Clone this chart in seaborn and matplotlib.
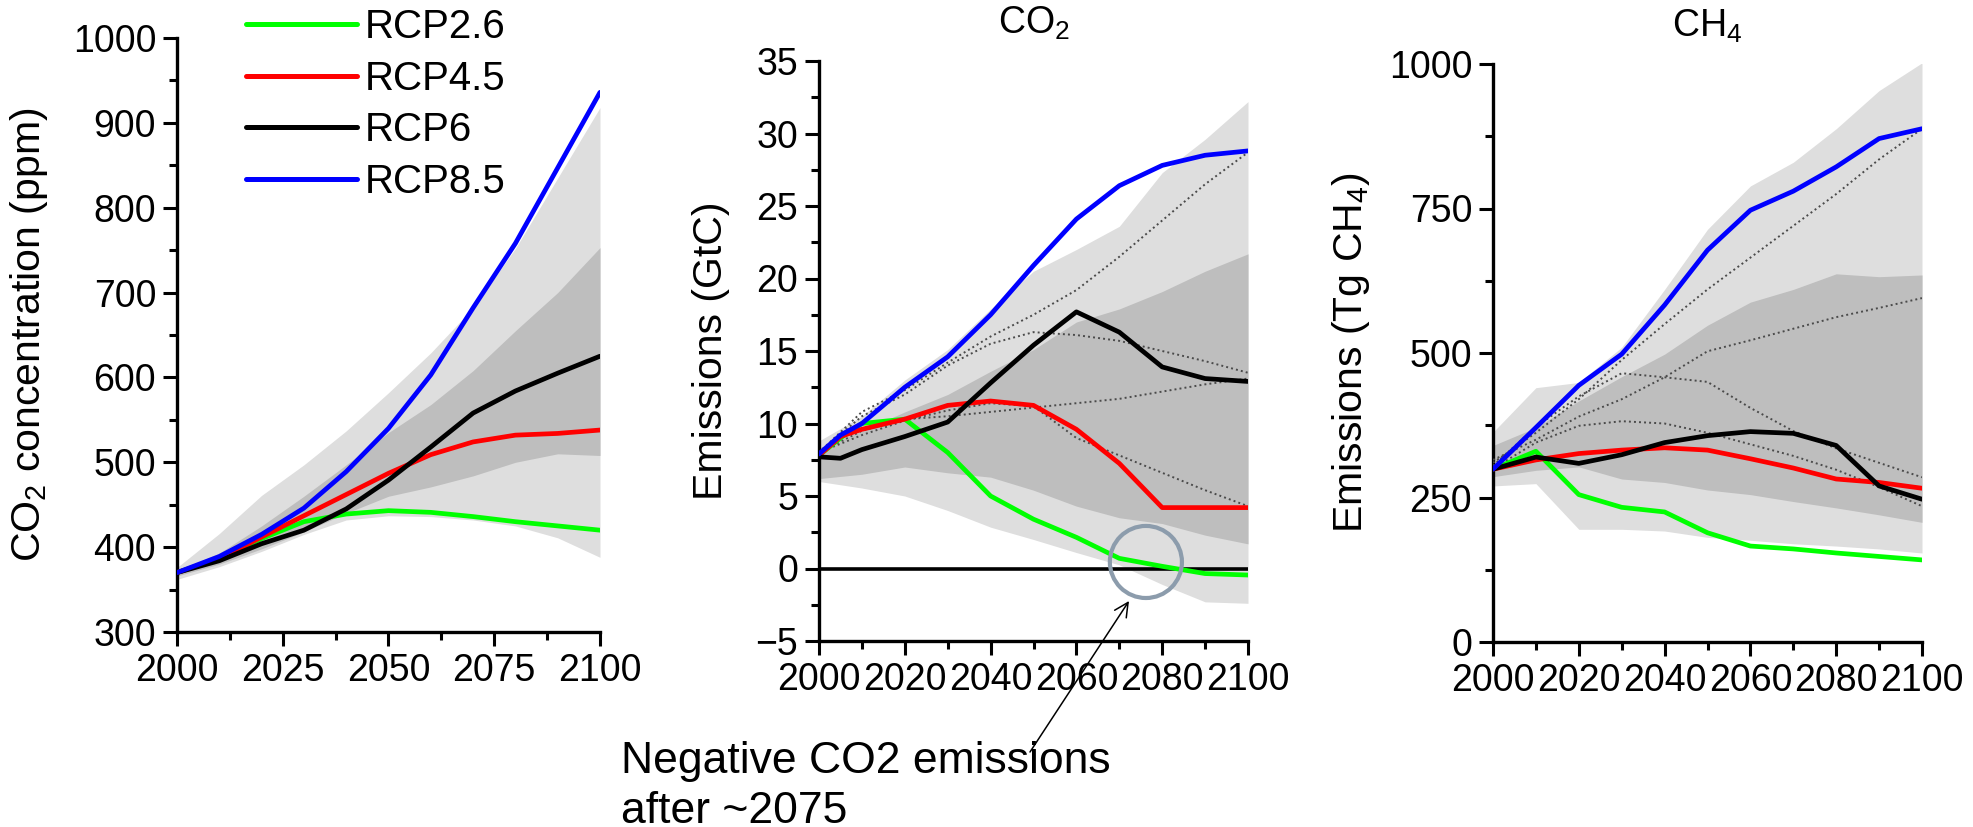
import numpy as np
import pandas as pd
import matplotlib
matplotlib.use("Agg")
import matplotlib.pyplot as plt
import seaborn as sns
from matplotlib.ticker import MultipleLocator
from matplotlib.lines import Line2D
from matplotlib.patches import Ellipse

# ---------------- data ----------------
scenarios = ["RCP2.6", "RCP4.5", "RCP6", "RCP8.5"]
colors = ["#00FF00", "#FF0000", "#000000", "#0000FF"]

years10 = [2000, 2010, 2020, 2030, 2040, 2050, 2060, 2070, 2080, 2090, 2100]
years_em = [2000, 2005, 2010, 2020, 2030, 2040, 2050, 2060, 2070, 2080, 2090, 2100]

# Panel 1: CO2 concentration (ppm)
conc_rcp26 = [370, 387, 410, 430, 439, 443, 441, 436, 430, 425, 420]
conc_rcp45 = [370, 386, 412, 437, 462, 487, 509, 524, 532, 534, 538]
conc_rcp6 = [370, 384, 404, 420, 445, 479, 518, 558, 584, 605, 625]
conc_rcp85 = [370, 389, 415, 446, 489, 540, 603, 682, 758, 847, 936]
conc_light_hi = [376, 416, 461, 497, 537, 582, 629, 682, 752, 835, 918]
conc_light_lo = [362, 377, 395, 415, 432, 437, 436, 432, 425, 411, 388]
conc_dark_hi = [372, 393, 425, 460, 497, 535, 568, 608, 655, 700, 753]
conc_dark_lo = [366, 380, 398, 418, 440, 460, 471, 484, 500, 510, 508]

# Panel 2: CO2 emissions (GtC)
co2_rcp26 = [7.8, 9.0, 10.0, 10.3, 8.0, 5.0, 3.4, 2.15, 0.7, 0.15, -0.35, -0.45]
co2_rcp45 = [7.8, 9.1, 9.6, 10.3, 11.25, 11.55, 11.25, 9.6, 7.25, 4.2, 4.2, 4.2]
co2_rcp6 = [7.7, 7.6, 8.2, 9.1, 10.1, 12.8, 15.4, 17.7, 16.3, 13.9, 13.1, 12.9]
co2_rcp85 = [7.9, 9.2, 10.0, 12.5, 14.6, 17.5, 20.9, 24.1, 26.4, 27.8, 28.5, 28.8]
co2_light_hi = [8.8, 10.5, 13.0, 15.1, 17.9, 20.5, 22.0, 23.6, 27.3, 29.6, 32.2]
co2_light_lo = [6.0, 5.55, 5.0, 4.0, 2.85, 2.0, 1.1, 0.25, -1.1, -2.3, -2.4]
co2_dark_hi = [8.3, 9.5, 10.8, 12.0, 13.6, 15.1, 17.0, 17.9, 19.1, 20.5, 21.7]
co2_dark_lo = [6.2, 6.5, 7.0, 6.6, 6.3, 5.4, 4.3, 3.5, 3.1, 2.3, 1.7]
co2_dot_a = [8.0, 10.8, 12.3, 14.2, 16.0, 17.5, 19.2, 21.5, 24.0, 26.5, 28.7]
co2_dot_b = [8.0, 10.5, 12.0, 14.0, 15.5, 16.3, 16.1, 15.7, 15.0, 14.3, 13.5]
co2_dot_c = [8.0, 9.5, 10.3, 10.5, 10.8, 11.1, 11.4, 11.7, 12.2, 12.7, 13.1]
co2_dot_d = [8.0, 9.2, 10.2, 10.9, 11.4, 11.2, 9.0, 7.8, 6.6, 5.4, 4.3]

# Panel 3: CH4 emissions (Tg CH4)
ch4_rcp26 = [299, 330, 255, 233, 225, 189, 166, 161, 154, 148, 142]
ch4_rcp45 = [299, 315, 326, 332, 336, 332, 317, 301, 282, 276, 266]
ch4_rcp6 = [299, 320, 309, 324, 345, 357, 364, 361, 340, 270, 247]
ch4_rcp85 = [299, 371, 444, 498, 583, 678, 747, 780, 822, 871, 888]
ch4_light_hi = [363, 440, 449, 510, 610, 714, 789, 830, 888, 954, 1002]
ch4_light_lo = [270, 274, 195, 195, 192, 181, 176, 170, 166, 161, 154]
ch4_dark_hi = [340, 371, 417, 459, 498, 548, 588, 610, 637, 632, 635]
ch4_dark_lo = [286, 297, 303, 282, 276, 263, 255, 243, 232, 220, 207]
ch4_dot_a = [310, 362, 420, 488, 550, 610, 665, 720, 775, 835, 888]
ch4_dot_b = [315, 350, 390, 420, 458, 503, 522, 542, 562, 578, 595]
ch4_dot_c = [305, 372, 425, 465, 458, 450, 405, 365, 335, 310, 285]
ch4_dot_d = [300, 345, 374, 382, 378, 362, 342, 322, 298, 268, 235]

x_ticks_conc = [2000, 2025, 2050, 2075, 2100]
x_ticks_em = [2000, 2020, 2040, 2060, 2080, 2100]

# ---------------- style ----------------
sns.set_theme(style="ticks")
plt.rcParams["font.family"] = ["Liberation Sans", "DejaVu Sans"]
plt.rcParams["mathtext.fontset"] = "custom"
plt.rcParams["mathtext.rm"] = "Liberation Sans"
plt.rcParams["mathtext.it"] = "Liberation Sans:italic"
plt.rcParams["mathtext.bf"] = "Liberation Sans:bold"
for key in ["text.color", "axes.labelcolor", "xtick.color", "ytick.color", "axes.edgecolor"]:
    plt.rcParams[key] = "black"

LIGHT = "#DEDEDE"
DARK = "#BEBEBE"
DOT = "#4A4A4A"

W, H = 1974, 827
fig = plt.figure(figsize=(W / 100, H / 100), dpi=100)


def px_axes(left, top, right, bottom):
    return fig.add_axes([left / W, 1 - bottom / H, (right - left) / W, (bottom - top) / H])


ax1 = px_axes(177, 38, 600, 632)
ax2 = px_axes(819, 61, 1248, 641)
ax3 = px_axes(1493, 64, 1922, 642)


def long_df(xs_list, series_list, names):
    rows = []
    for xs, vals, name in zip(xs_list, series_list, names):
        for x, v in zip(xs, vals):
            rows.append({"year": x, "value": v, "series": name})
    return pd.DataFrame(rows)


def draw_panel(ax, band_x, light, dark, line_x, lines, dots=None):
    ax.fill_between(band_x, light[1], light[0], color=LIGHT, lw=0, zorder=1)
    ax.fill_between(band_x, dark[1], dark[0], color=DARK, lw=0, zorder=1.5)
    if dots:
        names = [f"d{i}" for i in range(len(dots))]
        ddf = long_df([band_x] * len(dots), dots, names)
        sns.lineplot(data=ddf, x="year", y="value", units="series", estimator=None,
                     color=DOT, lw=1.4, linestyle=(0, (1, 1.6)), legend=False,
                     ax=ax, zorder=3, sort=False)
    df = long_df([line_x] * 4, lines, scenarios)
    sns.lineplot(data=df, x="year", y="value", hue="series", hue_order=scenarios,
                 palette=colors, estimator=None, lw=3.4, legend=False, ax=ax,
                 zorder=5, sort=False)


draw_panel(ax1, years10, (conc_light_hi, conc_light_lo), (conc_dark_hi, conc_dark_lo),
           years10, [conc_rcp26, conc_rcp45, conc_rcp6, conc_rcp85])
ax2.plot([2000, 2100], [0, 0], color="black", lw=2.6, zorder=4)
draw_panel(ax2, years10, (co2_light_hi, co2_light_lo), (co2_dark_hi, co2_dark_lo),
           years_em, [co2_rcp26, co2_rcp45, co2_rcp6, co2_rcp85],
           dots=[co2_dot_a, co2_dot_b, co2_dot_c, co2_dot_d])
draw_panel(ax3, years10, (ch4_light_hi, ch4_light_lo), (ch4_dark_hi, ch4_dark_lo),
           years10, [ch4_rcp26, ch4_rcp45, ch4_rcp6, ch4_rcp85],
           dots=[ch4_dot_a, ch4_dot_b, ch4_dot_c, ch4_dot_d])


def style_axes(ax, ylim, ymaj, ymin, xticks, xmin):
    ax.set_xlim(2000, 2100)
    ax.set_ylim(*ylim)
    ax.set_xticks(xticks)
    ax.xaxis.set_minor_locator(MultipleLocator(xmin))
    ax.yaxis.set_major_locator(MultipleLocator(ymaj))
    ax.yaxis.set_minor_locator(MultipleLocator(ymin))
    for s in ["top", "right"]:
        ax.spines[s].set_visible(False)
    for s in ["left", "bottom"]:
        ax.spines[s].set_linewidth(2.4)
        ax.spines[s].set_color("black")
    ax.tick_params(which="major", direction="out", length=10, width=2.2,
                   colors="black", labelcolor="black", labelsize=27, pad=5)
    ax.tick_params(which="minor", direction="out", length=5.5, width=2.2, colors="black")
    ax.set_xlabel("")
    ax.set_facecolor("white")


style_axes(ax1, (300, 1000), 100, 50, x_ticks_conc, 12.5)
style_axes(ax2, (-5, 35), 5, 2.5, x_ticks_em, 10)
style_axes(ax3, (0, 1000), 250, 125, x_ticks_em, 10)

ax1.set_ylabel(r"CO$_2$ concentration (ppm)", fontsize=29.5, color="black")
ax1.yaxis.set_label_coords(-0.30, 0.5)
ax2.set_ylabel("Emissions (GtC)", fontsize=29.5, color="black")
ax2.yaxis.set_label_coords(-0.207, 0.5)
ax3.set_ylabel(r"Emissions (Tg CH$_4$)", fontsize=29.5, color="black")
ax3.yaxis.set_label_coords(-0.282, 0.5)

ax2.set_title(r"CO$_2$", fontsize=27, pad=20, color="black")
ax3.set_title(r"CH$_4$", fontsize=27, pad=20, color="black")

# legend
handles = [Line2D([], [], color=c, lw=3.6) for c in colors]
ax1.legend(handles, scenarios, loc="upper left", bbox_to_anchor=(246 / W, 1 - 8 / H),
           bbox_transform=fig.transFigure, frameon=False, fontsize=29,
           handlelength=2.75, handletextpad=0.2, labelspacing=0.34,
           borderpad=0, borderaxespad=0, labelcolor="black")

# circle + annotation
ax2.add_patch(Ellipse((2076.2, 0.45), width=16.8, height=4.97, fill=False,
                      edgecolor="#8C9CAC", lw=3.0, zorder=6, clip_on=False))
ax2.annotate("", xy=(1129, H - 601), xycoords="figure pixels",
             xytext=(1030, H - 752), textcoords="figure pixels",
             arrowprops=dict(arrowstyle="->", color="black", lw=1.1,
                             mutation_scale=25, shrinkA=0, shrinkB=0))
fig.text(621 / W, (H - 773) / H, "Negative CO2 emissions", fontsize=32,
         ha="left", va="baseline", color="black")
fig.text(621 / W, (H - 823) / H, "after ~2075", fontsize=32,
         ha="left", va="baseline", color="black")

fig.savefig("out.png", dpi=100, facecolor="white")
